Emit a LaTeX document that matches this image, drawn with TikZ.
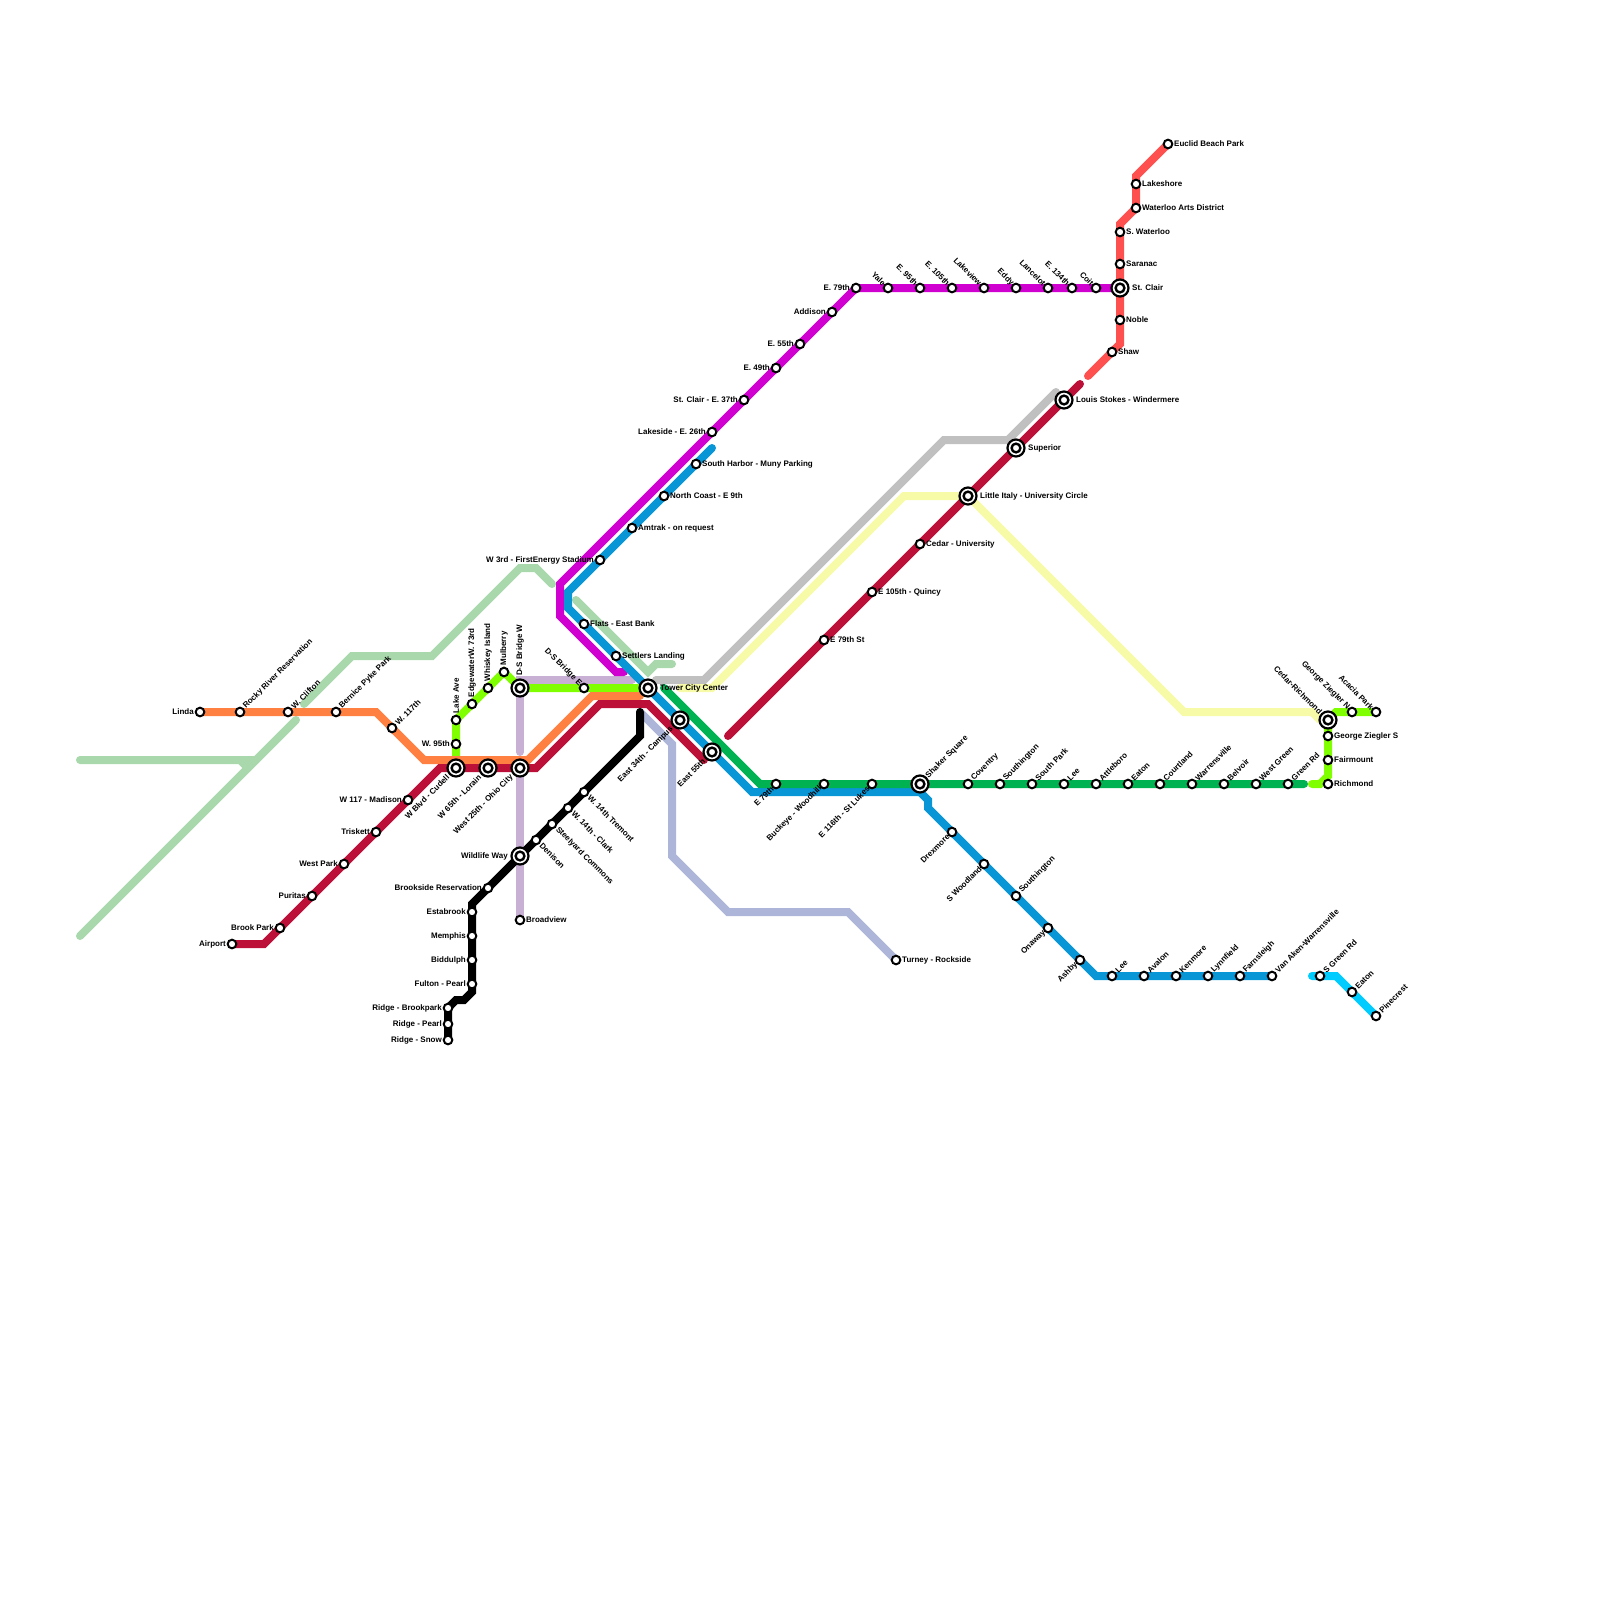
\documentclass[tikz,border=0pt]{standalone}
\usepackage{fontspec}
\setmainfont{Liberation Sans}
\definecolor{lineCrimson}{HTML}{BD1038}
\definecolor{lineOrange}{HTML}{FF8040}
\definecolor{lineLime}{HTML}{80FF00}
\definecolor{lineGreen}{HTML}{00B251}
\definecolor{lineBlue}{HTML}{0896D7}
\definecolor{lineCyan}{HTML}{00CCFF}
\definecolor{lineMagenta}{HTML}{D000D0}
\definecolor{lineCoral}{HTML}{FF5050}
\definecolor{lineGray}{HTML}{C0C0C0}
\definecolor{lineYellow}{HTML}{F7FBA8}
\definecolor{lineSage}{HTML}{A8D8AB}
\definecolor{lineLilac}{HTML}{C8B0D4}
\definecolor{lineLavender}{HTML}{ADB5D8}
\tikzset{
    metro/.style={line width=8pt,line cap=round,line join=miter},
    stopdot/.style={circle,draw=black,fill=white,line width=2pt,minimum size=8.6pt,inner sep=0pt,outer sep=0pt},
    hubdot/.style={circle,draw=black,fill=white,line width=2.2pt,minimum size=17pt,inner sep=0pt,outer sep=0pt},
    hubcore/.style={circle,draw=black,fill=white,line width=2.4pt,minimum size=8.8pt,inner sep=0pt,outer sep=0pt},
    lab/.style={font=\fontsize{8pt}{8pt}\bfseries,inner sep=0pt,text=black},
    labE/.style={lab,anchor=west,xshift=6pt},
    labW/.style={lab,anchor=east,xshift=-6pt},
    labN/.style={lab,anchor=west,yshift=6.5pt,rotate=90},
    labNE/.style={lab,anchor=west,xshift=4.5pt,yshift=4.5pt,rotate=45},
    labNW/.style={lab,anchor=east,xshift=-3.5pt,yshift=3.5pt,rotate=-45},
    labSW/.style={lab,anchor=east,xshift=-3.5pt,yshift=-3.5pt,rotate=45},
    labSE/.style={lab,anchor=west,xshift=5pt,yshift=-4.5pt,rotate=-45},
    hubE/.style={lab,anchor=west,xshift=12pt},
    hubW/.style={lab,anchor=east,xshift=-12pt},
    hubN/.style={lab,anchor=west,yshift=12pt,rotate=90},
    hubNE/.style={lab,anchor=west,xshift=7pt,yshift=7pt,rotate=45},
    hubNW/.style={lab,anchor=east,xshift=-7pt,yshift=7pt,rotate=-45},
    hubSW/.style={lab,anchor=east,xshift=-8pt,yshift=-8pt,rotate=45},
}
% stations: name/x/y/kind/label side/text
\newcommand{\stoplist}{
    tower/648/688/hubdot/hubE/Tower City Center,
    dsw/520/688/hubdot/hubN/D-S Bridge W,
    dse/584/688/stopdot/labNW/D-S Bridge E,
    flats/584/624/stopdot/labE/Flats - East Bank,
    settlers/616/656/stopdot/labE/Settlers Landing,
    third/600/560/stopdot/labW/W 3rd - FirstEnergy Stadium,
    amtrak/632/528/stopdot/labE/Amtrak - on request,
    northcoast/664/496/stopdot/labE/North Coast - E 9th,
    harbor/696/464/stopdot/labE/South Harbor - Muny Parking,
    eastA/680/720/hubdot/hubSW/East 34th - Campus,
    eastB/712/752/hubdot/hubSW/East 55th,
    linda/200/712/stopdot/labW/Linda,
    rocky/240/712/stopdot/labNE/Rocky River Reservation,
    clifton/288/712/stopdot/labNE/W. Clifton,
    bernice/336/712/stopdot/labNE/Bernice Pyke Park,
    wA/392/728/stopdot/labNE/W. 117th,
    lake/456/720/stopdot/labN/Lake Ave,
    wB/456/744/stopdot/labW/W. 95th,
    cudell/456/768/hubdot/hubSW/W Blvd - Cudell,
    lorain/488/768/hubdot/hubSW/W 65th - Lorain,
    ohio/520/768/hubdot/hubSW/West 25th - Ohio City,
    edgewater/472/704/stopdot/labN/EdgewaterW. 73rd,
    whiskey/488/688/stopdot/labN/Whiskey Island,
    mulberry/504/672/stopdot/labN/Mulberry,
    madison/408/800/stopdot/labW/W 117 - Madison,
    triskett/376/832/stopdot/labW/Triskett,
    westpark/344/864/stopdot/labW/West Park,
    puritas/312/896/stopdot/labW/Puritas,
    brookpark/280/928/stopdot/labW/Brook Park,
    airport/232/944/stopdot/labW/Airport,
    tremont/584/792/stopdot/labSE/W. 14th Tremont,
    clark/568/808/stopdot/labSE/W. 14th - Clark,
    steelyard/552/824/stopdot/labSE/Steelyard Commons,
    denison/536/840/stopdot/labSE/Denison,
    wildlife/520/856/hubdot/hubW/Wildlife Way,
    broadview/520/920/stopdot/labE/Broadview,
    brookside/488/888/stopdot/labW/Brookside Reservation,
    estabrook/472/912/stopdot/labW/Estabrook,
    memphis/472/936/stopdot/labW/Memphis,
    biddulph/472/960/stopdot/labW/Biddulph,
    fulton/472/984/stopdot/labW/Fulton - Pearl,
    ridgeA/448/1008/stopdot/labW/Ridge - Brookpark,
    ridgeB/448/1024/stopdot/labW/Ridge - Pearl,
    ridgeC/448/1040/stopdot/labW/Ridge - Snow,
    turney/896/960/stopdot/labE/Turney - Rockside,
    eSeventy/776/784/stopdot/labSW/E 79th,
    buckeye/824/784/stopdot/labSW/Buckeye - Woodhill,
    lukes/872/784/stopdot/labSW/E 116th - St Lukes,
    shaker/920/784/hubdot/hubNE/Shaker Square,
    coventry/968/784/stopdot/labNE/Coventry,
    southingA/1000/784/stopdot/labNE/Southington,
    southpark/1032/784/stopdot/labNE/South Park,
    leeA/1064/784/stopdot/labNE/Lee,
    attleboro/1096/784/stopdot/labNE/Attleboro,
    eatonA/1128/784/stopdot/labNE/Eaton,
    courtland/1160/784/stopdot/labNE/Courtland,
    warrens/1192/784/stopdot/labNE/Warrensville,
    belvoir/1224/784/stopdot/labNE/Belvoir,
    westgreen/1256/784/stopdot/labNE/West Green,
    greenrd/1288/784/stopdot/labNE/Green Rd,
    richmond/1328/784/stopdot/labE/Richmond,
    fairmount/1328/760/stopdot/labE/Fairmount,
    zieglerS/1328/736/stopdot/labE/George Ziegler S,
    cedarrich/1328/720/hubdot/hubNW/Cedar-Richmond,
    zieglerN/1352/712/stopdot/labNW/George Ziegler N,
    acacia/1376/712/stopdot/labNW/Acacia Park,
    drexmore/952/832/stopdot/labSW/Drexmore,
    woodland/984/864/stopdot/labSW/S Woodland,
    southingB/1016/896/stopdot/labNE/Southington,
    onaway/1048/928/stopdot/labSW/Onaway,
    ashby/1080/960/stopdot/labSW/Ashby,
    leeB/1112/976/stopdot/labNE/Lee,
    avalon/1144/976/stopdot/labNE/Avalon,
    kenmore/1176/976/stopdot/labNE/Kenmore,
    lynnfield/1208/976/stopdot/labNE/Lynnfield,
    farnsleigh/1240/976/stopdot/labNE/Farnsleigh,
    vanaken/1272/976/stopdot/labNE/Van Aken-Warrensville,
    sgreen/1320/976/stopdot/labNE/S Green Rd,
    eatonB/1352/992/stopdot/labNE/Eaton,
    pinecrest/1376/1016/stopdot/labNE/Pinecrest,
    eSevenNine/856/288/stopdot/labW/E. 79th,
    addison/832/312/stopdot/labW/Addison,
    eFiftyFive/800/344/stopdot/labW/E. 55th,
    eFortyNine/776/368/stopdot/labW/E. 49th,
    stclairE/744/400/stopdot/labW/St. Clair - E. 37th,
    lakeside/712/432/stopdot/labW/Lakeside - E. 26th,
    yale/888/288/stopdot/labNW/Yale,
    eNinetyFive/920/288/stopdot/labNW/E. 95th,
    eOneOFive/952/288/stopdot/labNW/E. 105th,
    lakeview/984/288/stopdot/labNW/Lakeview,
    eddy/1016/288/stopdot/labNW/Eddy,
    lancelot/1048/288/stopdot/labNW/Lancelot,
    eOneThree/1072/288/stopdot/labNW/E. 134th,
    coit/1096/288/stopdot/labNW/Coit,
    stclair/1120/288/hubdot/hubE/St. Clair,
    euclid/1168/144/stopdot/labE/Euclid Beach Park,
    lakeshore/1136/184/stopdot/labE/Lakeshore,
    waterloo/1136/208/stopdot/labE/Waterloo Arts District,
    swaterloo/1120/232/stopdot/labE/S. Waterloo,
    saranac/1120/264/stopdot/labE/Saranac,
    noble/1120/320/stopdot/labE/Noble,
    shaw/1112/352/stopdot/labE/Shaw,
    stokes/1064/400/hubdot/hubE/Louis Stokes - Windermere,
    superior/1016/448/hubdot/hubE/Superior,
    italy/968/496/hubdot/hubE/Little Italy - University Circle,
    cedaruni/920/544/stopdot/labE/Cedar - University,
    quincy/872/592/stopdot/labE/E 105th - Quincy,
    estSeven/824/640/stopdot/labE/E 79th St%
}
\begin{document}
\begin{tikzpicture}[x=1pt,y=-1pt]
    \useasboundingbox (0,0) rectangle (1600,1600);
    \foreach \nm/\px/\py/\kind/\side/\txt in \stoplist {\coordinate (\nm) at (\px,\py);}

    \draw[metro,lineSage] (80,936)--(296,720);
    \draw[metro,lineSage] (80,760)--(256,760) (240,760)--(248,768);
    \draw[metro,lineSage] (304,704)--(352,656)--(432,656)--(520,568)--(536,568)--(552,584);
    \draw[metro,lineSage] (576,600)--(648,672)--(656,664)--(672,664);
    \draw[metro,lineLavender] (640,712)--(672,744)--(672,856)--(728,912)--(848,912)--(turney);
    \draw[metro,lineLilac] (632,680)--(520,680)--(520,752);
    \draw[metro,lineLilac] (ohio)--(broadview);
    \draw[metro,lineGray] (656,680)--(704,680)--(944,440)--(1008,440)--(1056,392);
    \draw[metro,lineYellow] (680,688)--(712,688)--(904,496)--(italy)--(1184,712)--(1312,712)--(1320,720);

    \draw[metro,lineMagenta] (stclair)--(eSevenNine)--(560,584)--(560,616)--(616,672)--(624,672);
    \draw[metro,lineCoral] (euclid)--(1136,176)--(waterloo)--(1120,224)--(1120,344)--(1088,376);
    \draw[metro,lineBlue] (712,448)--(568,592)--(568,608)--(752,792)--(920,792)--(928,800)--(928,808)--(1096,976)--(vanaken);
    \draw[metro,lineCyan] (1312,976)--(1336,976)--(pinecrest);
    \draw[metro,lineGreen] (664,688)--(760,784)--(1304,784);
    \draw[metro,lineLime] (cudell)--(lake)--(mulberry)--(dsw)--(tower);
    \draw[metro,lineLime] (1312,784)--(1320,784)--(1328,776)--(cedarrich)--(1336,712)--(acacia);
    \draw[metro,lineOrange] (linda)--(376,712)--(424,760)--(528,760)--(592,696)--(640,696);
    \draw[metro,lineCrimson] (airport)--(264,944)--(440,768)--(536,768)--(600,704)--(648,704)--(704,760);
    \draw[metro,lineCrimson] (728,736)--(1080,384);
    \draw[metro,black] (640,712)--(640,736)--(472,904)--(472,992)--(464,1000)--(456,1000)--(448,1008)--(ridgeC);

    \foreach \nm/\px/\py/\kind/\side/\txt in \stoplist {
        \node[\kind] (\nm-dot) at (\nm) {};
        \node[\side] (\nm-lab) at (\nm) {\txt};
    }
    % inner ring of the interchange stops
    \foreach \nm in {tower,dsw,eastA,eastB,cudell,lorain,ohio,wildlife,shaker,cedarrich,stclair,stokes,superior,italy}{
        \node[hubcore] (\nm-core) at (\nm) {};
    }
\end{tikzpicture}
\end{document}
